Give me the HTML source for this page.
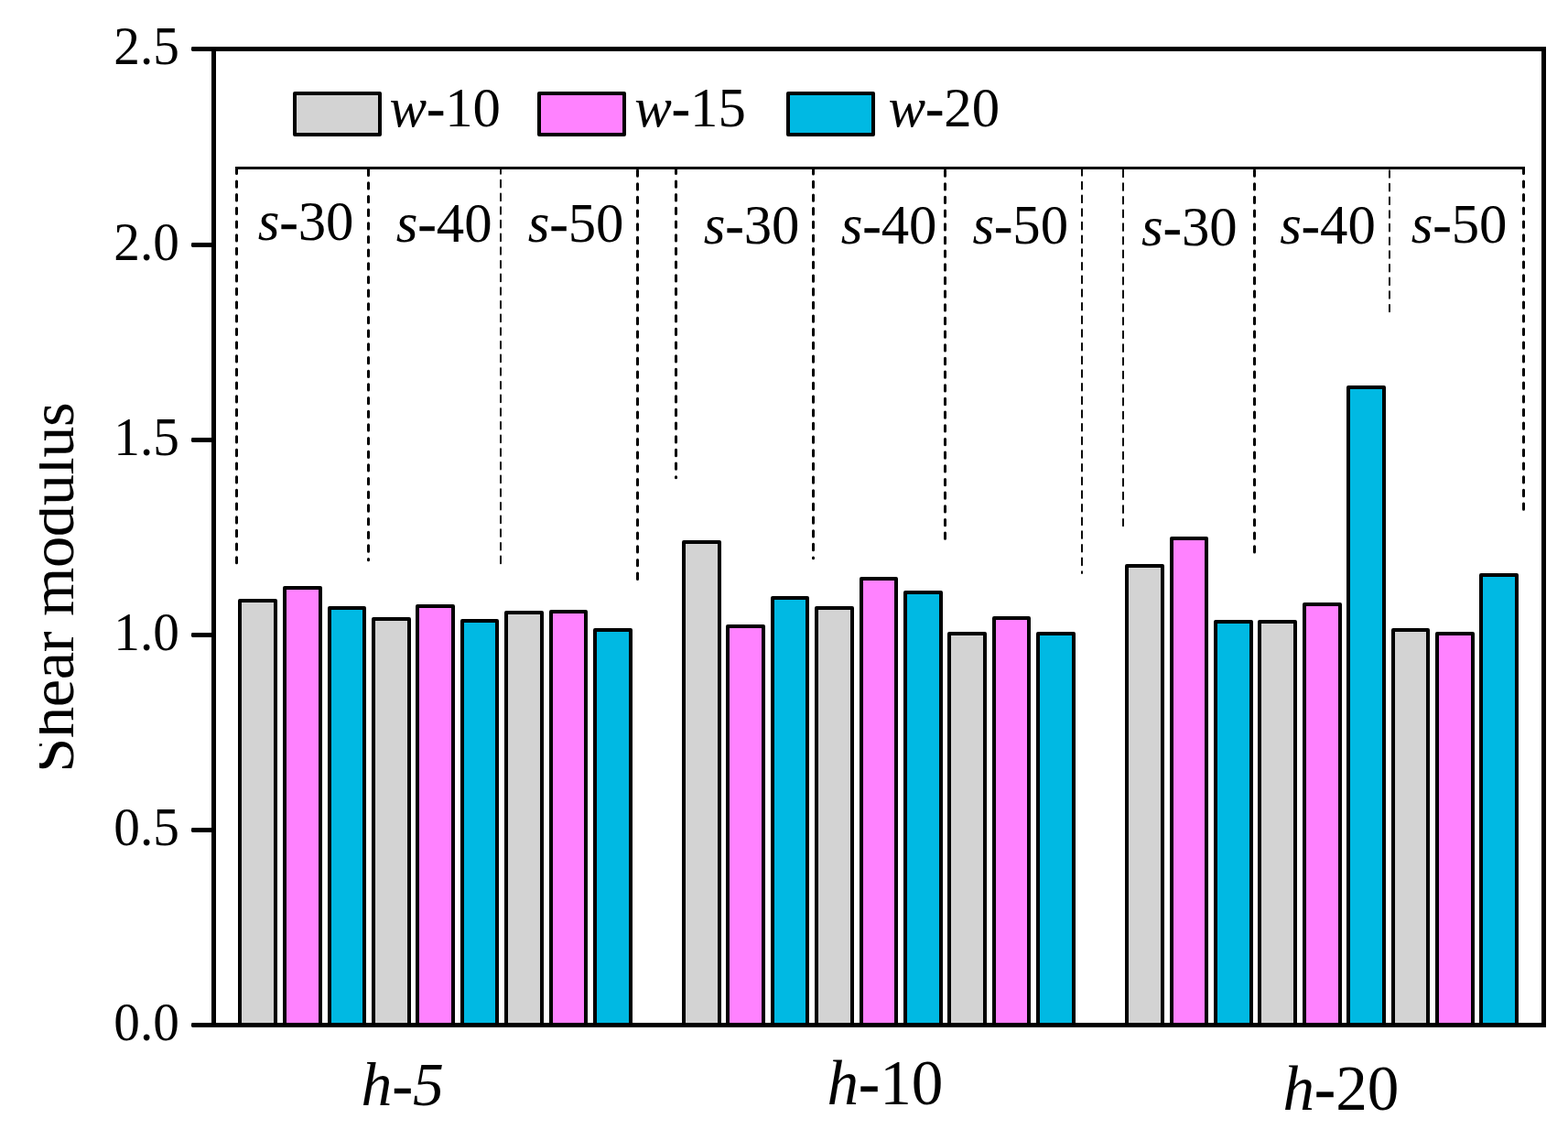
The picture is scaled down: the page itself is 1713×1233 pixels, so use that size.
<!DOCTYPE html>
<html lang="en"><head><meta charset="utf-8"><title>Shear modulus</title>
<style>html,body{margin:0;padding:0;background:#fff;}body{width:1713px;height:1233px;overflow:hidden;}svg{display:block;}text{font-family:"Liberation Serif",serif;fill:#000;}.i{font-style:italic;}.hy{stroke:#000;stroke-width:0.5px;}</style></head><body>
<svg width="1713" height="1233" viewBox="0 0 1713 1233">
<rect x="0" y="0" width="1713" height="1233" fill="#fff"/>
<defs><clipPath id="yc"><rect x="42.9" y="400" width="60" height="480"/></clipPath></defs>
<g stroke="#000" stroke-width="4" stroke-linejoin="round">
<rect x="262" y="656" width="39" height="463.5" fill="#d3d3d3"/>
<rect x="311" y="642" width="39" height="477.5" fill="#ff82ff"/>
<rect x="360" y="664" width="38" height="455.5" fill="#00b9e3"/>
<rect x="408" y="676" width="39" height="443.5" fill="#d3d3d3"/>
<rect x="456" y="662" width="39" height="457.5" fill="#ff82ff"/>
<rect x="505" y="678" width="38" height="441.5" fill="#00b9e3"/>
<rect x="553" y="669" width="39" height="450.5" fill="#d3d3d3"/>
<rect x="602" y="668" width="38" height="451.5" fill="#ff82ff"/>
<rect x="650" y="688" width="39" height="431.5" fill="#00b9e3"/>
<rect x="747" y="592" width="39" height="527.5" fill="#d3d3d3"/>
<rect x="795" y="684" width="39" height="435.5" fill="#ff82ff"/>
<rect x="844" y="653" width="38" height="466.5" fill="#00b9e3"/>
<rect x="892" y="664" width="39" height="455.5" fill="#d3d3d3"/>
<rect x="941" y="632" width="38" height="487.5" fill="#ff82ff"/>
<rect x="989" y="647" width="39" height="472.5" fill="#00b9e3"/>
<rect x="1037" y="692" width="39" height="427.5" fill="#d3d3d3"/>
<rect x="1086" y="675" width="38" height="444.5" fill="#ff82ff"/>
<rect x="1134" y="692" width="39" height="427.5" fill="#00b9e3"/>
<rect x="1231" y="618" width="39" height="501.5" fill="#d3d3d3"/>
<rect x="1280" y="588" width="38" height="531.5" fill="#ff82ff"/>
<rect x="1328" y="679" width="39" height="440.5" fill="#00b9e3"/>
<rect x="1376" y="679" width="39" height="440.5" fill="#d3d3d3"/>
<rect x="1425" y="660" width="39" height="459.5" fill="#ff82ff"/>
<rect x="1473" y="423" width="39" height="696.5" fill="#00b9e3"/>
<rect x="1522" y="688" width="38" height="431.5" fill="#d3d3d3"/>
<rect x="1570" y="692" width="39" height="427.5" fill="#ff82ff"/>
<rect x="1618" y="628" width="39" height="491.5" fill="#00b9e3"/>
</g>
<line x1="257" y1="183.5" x2="1666" y2="183.5" stroke="#000" stroke-width="3"/>
<g stroke="#000" fill="none" stroke-linecap="round">
<line x1="258.5" y1="183.5" x2="258.5" y2="614.80" stroke-width="3" stroke-dasharray="6.30 8.37" stroke-dashoffset="0.22"/>
<line x1="402.5" y1="183.5" x2="402.5" y2="611.80" stroke-width="3" stroke-dasharray="6.30 8.37" stroke-dashoffset="13.09"/>
<line x1="547" y1="183.5" x2="547" y2="615.24" stroke-width="1.9" stroke-dasharray="7.68 6.99" stroke-dashoffset="1.36"/>
<line x1="696.5" y1="183.5" x2="696.5" y2="632.55" stroke-width="3" stroke-dasharray="6.30 8.37" stroke-dashoffset="12.19"/>
<line x1="738.5" y1="183.5" x2="738.5" y2="521.70" stroke-width="3" stroke-dasharray="6.30 8.37" stroke-dashoffset="0.22"/>
<line x1="888.5" y1="183.5" x2="888.5" y2="609.80" stroke-width="3" stroke-dasharray="6.30 8.37" stroke-dashoffset="14.59"/>
<line x1="1032.5" y1="183.5" x2="1032.5" y2="588.30" stroke-width="3" stroke-dasharray="6.30 8.37" stroke-dashoffset="12.19"/>
<line x1="1182" y1="183.5" x2="1182" y2="625.99" stroke-width="1.9" stroke-dasharray="7.68 6.99" stroke-dashoffset="14.03"/>
<line x1="1227" y1="183.5" x2="1227" y2="574.24" stroke-width="1.9" stroke-dasharray="7.68 6.99" stroke-dashoffset="12.63"/>
<line x1="1370.5" y1="183.5" x2="1370.5" y2="603.80" stroke-width="3" stroke-dasharray="6.30 8.37" stroke-dashoffset="12.19"/>
<line x1="1518" y1="183.5" x2="1518" y2="340.24" stroke-width="1.9" stroke-dasharray="7.68 6.99" stroke-dashoffset="12.03"/>
<line x1="1664.5" y1="183.5" x2="1664.5" y2="556.80" stroke-width="3" stroke-dasharray="6.30 8.37" stroke-dashoffset="0.22"/>
</g>
<rect x="233.5" y="53.5" width="1453" height="1066" stroke="#000" stroke-width="5" fill="none" stroke-linejoin="miter"/>
<g fill="#000">
<rect x="209" y="51" width="25" height="5" rx="1.4"/>
<rect x="209" y="265" width="25" height="5" rx="1.4"/>
<rect x="209" y="478" width="25" height="5" rx="1.4"/>
<rect x="209" y="691" width="25" height="5" rx="1.4"/>
<rect x="209" y="904" width="25" height="5" rx="1.4"/>
<rect x="209" y="1117" width="25" height="5" rx="1.4"/>
</g>
<g font-size="57.3" text-anchor="end">
<text transform="translate(195.90 69.60) scale(1 1.02)">2.5</text>
<text transform="translate(195.90 283.60) scale(1 1.02)">2.0</text>
<text transform="translate(195.90 496.60) scale(1 1.02)">1.5</text>
<text transform="translate(195.90 709.60) scale(1 1.02)">1.0</text>
<text transform="translate(195.90 922.60) scale(1 1.02)">0.5</text>
<text transform="translate(195.90 1135.60) scale(1 1.02)">0.0</text>
</g>
<g stroke="#000" stroke-width="4" stroke-linejoin="round">
<rect x="322" y="102" width="93" height="45" fill="#d3d3d3"/>
<rect x="589" y="102" width="93" height="45" fill="#ff82ff"/>
<rect x="861" y="102" width="93" height="45" fill="#00b9e3"/>
</g>
<g font-size="60.8">
<text transform="translate(425.38 137.99) scale(1 1.02)"><tspan class="i">w</tspan><tspan class="hy">-</tspan>10</text>
<text transform="translate(693.23 137.99) scale(1 1.02)"><tspan class="i">w</tspan><tspan class="hy">-</tspan>15</text>
<text transform="translate(970.48 137.99) scale(1 1.02)"><tspan class="i">w</tspan><tspan class="hy">-</tspan>20</text>
</g>
<g font-size="60.8">
<text transform="translate(281.79 262.49) scale(1 1.02)"><tspan class="i">s</tspan><tspan class="hy">-</tspan>30</text>
<text transform="translate(432.84 264.49) scale(1 1.02)"><tspan class="i">s</tspan><tspan class="hy">-</tspan>40</text>
<text transform="translate(576.79 263.89) scale(1 1.02)"><tspan class="i">s</tspan><tspan class="hy">-</tspan>50</text>
<text transform="translate(768.79 266.49) scale(1 1.02)"><tspan class="i">s</tspan><tspan class="hy">-</tspan>30</text>
<text transform="translate(918.79 265.79) scale(1 1.02)"><tspan class="i">s</tspan><tspan class="hy">-</tspan>40</text>
<text transform="translate(1062.39 265.79) scale(1 1.02)"><tspan class="i">s</tspan><tspan class="hy">-</tspan>50</text>
<text transform="translate(1246.99 268.49) scale(1 1.02)"><tspan class="i">s</tspan><tspan class="hy">-</tspan>30</text>
<text transform="translate(1398.19 265.79) scale(1 1.02)"><tspan class="i">s</tspan><tspan class="hy">-</tspan>40</text>
<text transform="translate(1541.79 265.09) scale(1 1.02)"><tspan class="i">s</tspan><tspan class="hy">-</tspan>50</text>
</g>
<g>
<text x="394.50" y="1206.70" font-size="67.8"><tspan class="i">h<tspan class="hy">-</tspan>5</tspan></text>
<text x="903.50" y="1206.40" font-size="69.2"><tspan class="i">h</tspan><tspan class="hy">-</tspan>10</text>
<text x="1401.50" y="1212.40" font-size="69.2"><tspan class="i">h</tspan><tspan class="hy">-</tspan>20</text>
</g>
<g clip-path="url(#yc)"><text font-size="68.5" transform="translate(79.6 843.8) rotate(-90)" textLength="404.6" lengthAdjust="spacing">Shear modulus</text></g>
</svg></body></html>
